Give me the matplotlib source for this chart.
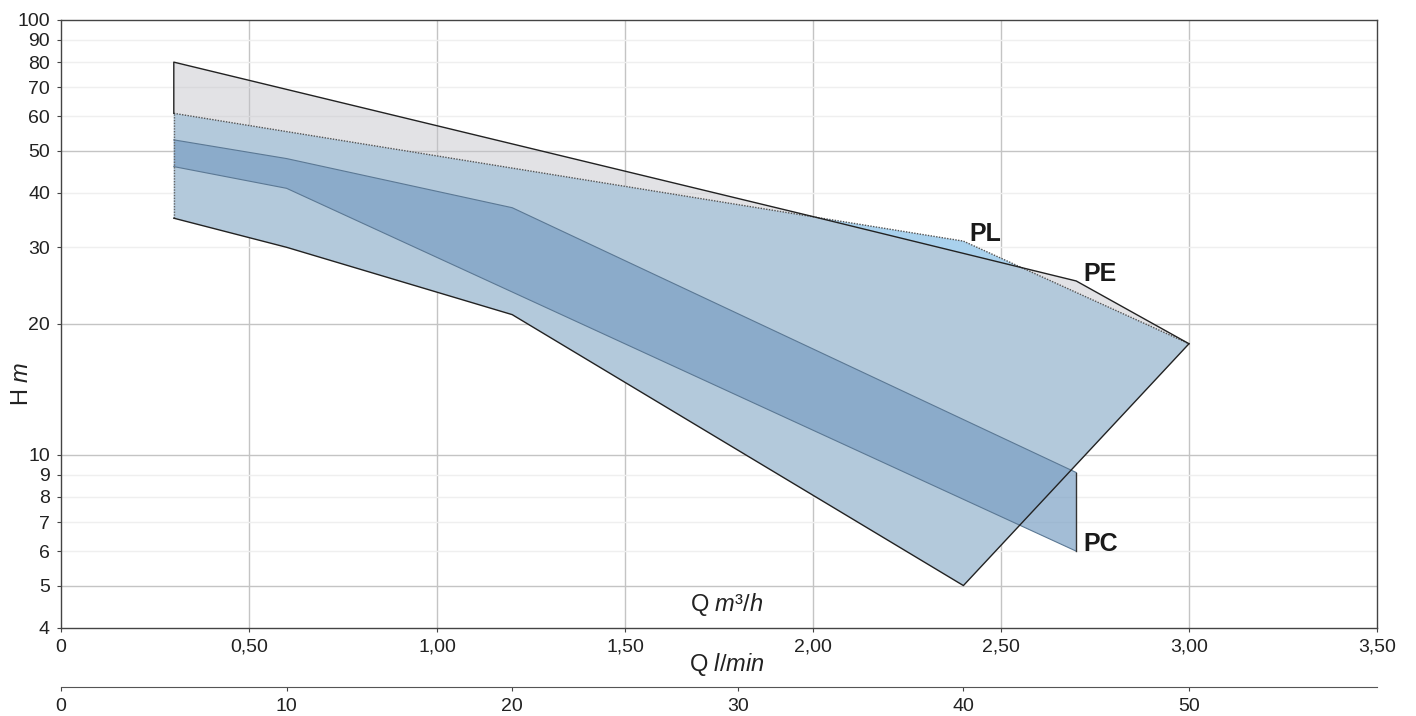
import matplotlib
matplotlib.use("Agg")
import matplotlib.pyplot as plt
from matplotlib.ticker import FixedLocator, FixedFormatter

plt.rcParams["font.family"] = ["Liberation Sans", "DejaVu Sans"]
plt.rcParams["mathtext.fontset"] = "custom"
plt.rcParams["mathtext.rm"] = "Liberation Sans"
plt.rcParams["mathtext.it"] = "Liberation Sans:italic"

# Curve data: Q in m3/h, H in m
bottom_q = [0.3, 0.6, 1.2, 2.4, 3.0]
bottom_h = [35, 30, 21, 5, 18]

pe_top_q = [0.3, 2.0, 2.7, 3.0]
pe_top_h = [80, 35.3, 25.1, 18]

pl_top_q = [0.3, 2.4, 3.0]
pl_top_h = [61, 31, 18]

pc_top_q = [0.3, 0.6, 1.2, 2.7]
pc_top_h = [53, 48, 37, 9.1]
pc_bot_q = [0.3, 0.6, 2.7]
pc_bot_h = [46, 41, 6]

# Tick data
x_ticks = [0, 0.5, 1.0, 1.5, 2.0, 2.5, 3.0, 3.5]
x_labels = ["0", "0,50", "1,00", "1,50", "2,00", "2,50", "3,00", "3,50"]
y_major = [5, 10, 20, 50, 100]
y_minor = [4, 6, 7, 8, 9, 30, 40, 60, 70, 80, 90]
lmin_ticks = [0, 10, 20, 30, 40, 50]

W, H = 1416, 716
fig = plt.figure(figsize=(W / 100, H / 100), dpi=100)
left, right, top, bot = 61, 1377, 20, 627.7
ax = fig.add_axes([left / W, 1 - bot / H, (right - left) / W, (bot - top) / H])

ax.set_yscale("log")
ax.set_xlim(0, 3.5)
ax.set_ylim(4, 100)

# polygons
pl_poly_q = pl_top_q + bottom_q[::-1][1:]
pl_poly_h = pl_top_h + bottom_h[::-1][1:]
pe_poly_q = pe_top_q + bottom_q[::-1][1:]
pe_poly_h = pe_top_h + bottom_h[::-1][1:]
pc_poly_q = pc_top_q + pc_bot_q[::-1]
pc_poly_h = pc_top_h + pc_bot_h[::-1]

ax.fill(pl_poly_q, pl_poly_h, color="#a9d1ed", lw=0, zorder=2)
ax.fill(pe_poly_q, pe_poly_h, color=(192 / 255, 192 / 255, 199 / 255), alpha=0.45, lw=0, zorder=3)
ax.fill(pc_poly_q, pc_poly_h, color=(120 / 255, 158 / 255, 195 / 255), alpha=0.68, lw=0, zorder=4)

# outlines
ax.plot(pc_top_q, pc_top_h, color="#5b7894", lw=0.8, zorder=5)
ax.plot(pc_bot_q, pc_bot_h, color="#5b7894", lw=0.8, zorder=5)
ax.plot([pc_top_q[-1], pc_bot_q[-1]], [pc_top_h[-1], pc_bot_h[-1]], color="#333333", lw=1, zorder=5)

ax.plot([pl_top_q[0]] * 2, [bottom_h[0], pl_top_h[0]], color="#666666", lw=1, ls=(0, (1, 1)), zorder=6)
ax.plot(pl_top_q, pl_top_h, color="#555555", lw=1, ls=(0, (1, 1)), zorder=6)

ax.plot([pe_top_q[0]] * 2 + pe_top_q[1:], [pl_top_h[0]] + pe_top_h, color="#222222", lw=1, zorder=7)
ax.plot(bottom_q, bottom_h, color="#222222", lw=1, zorder=7)

# labels on curves
lab_kw = dict(fontsize=18, fontweight="bold", color="#1a1a1a", va="baseline", ha="left", zorder=8)
ax.text(pl_top_q[1] + 0.015, pl_top_h[1], "PL", **lab_kw)
ax.text(pe_top_q[2] + 0.02, pe_top_h[2], "PE", **lab_kw)
ax.text(pc_bot_q[-1] + 0.02, pc_bot_h[-1], "PC", **lab_kw)

# grid
for v in x_ticks[1:-1]:
    ax.axvline(v, color="#c4c4c4", lw=1, zorder=1)
for v in y_major[:-1]:
    ax.axhline(v, color="#c4c4c4", lw=1, zorder=1)
for v in y_minor[1:]:
    ax.axhline(v, color="#efefef", lw=1, zorder=1)

ax.xaxis.set_major_locator(FixedLocator(x_ticks))
ax.xaxis.set_major_formatter(FixedFormatter(x_labels))
ax.xaxis.set_minor_locator(FixedLocator([]))
ax.yaxis.set_major_locator(FixedLocator(y_major))
ax.yaxis.set_major_formatter(FixedFormatter([str(v) for v in y_major]))
ax.yaxis.set_minor_locator(FixedLocator(y_minor))
ax.yaxis.set_minor_formatter(FixedFormatter([str(v) for v in y_minor]))
ax.tick_params(axis="both", which="both", labelsize=14, length=3, width=0.8,
               color="#444444", labelcolor="#222222")
ax.tick_params(axis="x", pad=5)
ax.tick_params(axis="y", which="both", pad=5)
for s in ax.spines.values():
    s.set_color("#444444")
    s.set_linewidth(1)

# secondary axis in l/min
sec = ax.secondary_xaxis(-0.0976, functions=(lambda q: q * 1000 / 60, lambda l: l * 60 / 1000))
sec.set_xticks(lmin_ticks)
sec.set_xticklabels([str(v) for v in lmin_ticks])
sec.tick_params(labelsize=14, length=3, width=0.8, color="#444444", labelcolor="#222222", pad=5)
sec.spines["bottom"].set_color("#555555")

fig.text(727 / W, 1 - 605 / H, r"Q $\mathit{m³/h}$", fontsize=17, color="#222222", ha="center", va="center")
fig.text(727 / W, 1 - 665 / H, r"Q $\mathit{l/min}$", fontsize=17, color="#222222", ha="center", va="center")
fig.text(22 / W, 1 - 384 / H, r"H $\mathit{m}$", fontsize=17, color="#222222", ha="center", va="center", rotation=90)

fig.savefig("out.png", dpi=100)
